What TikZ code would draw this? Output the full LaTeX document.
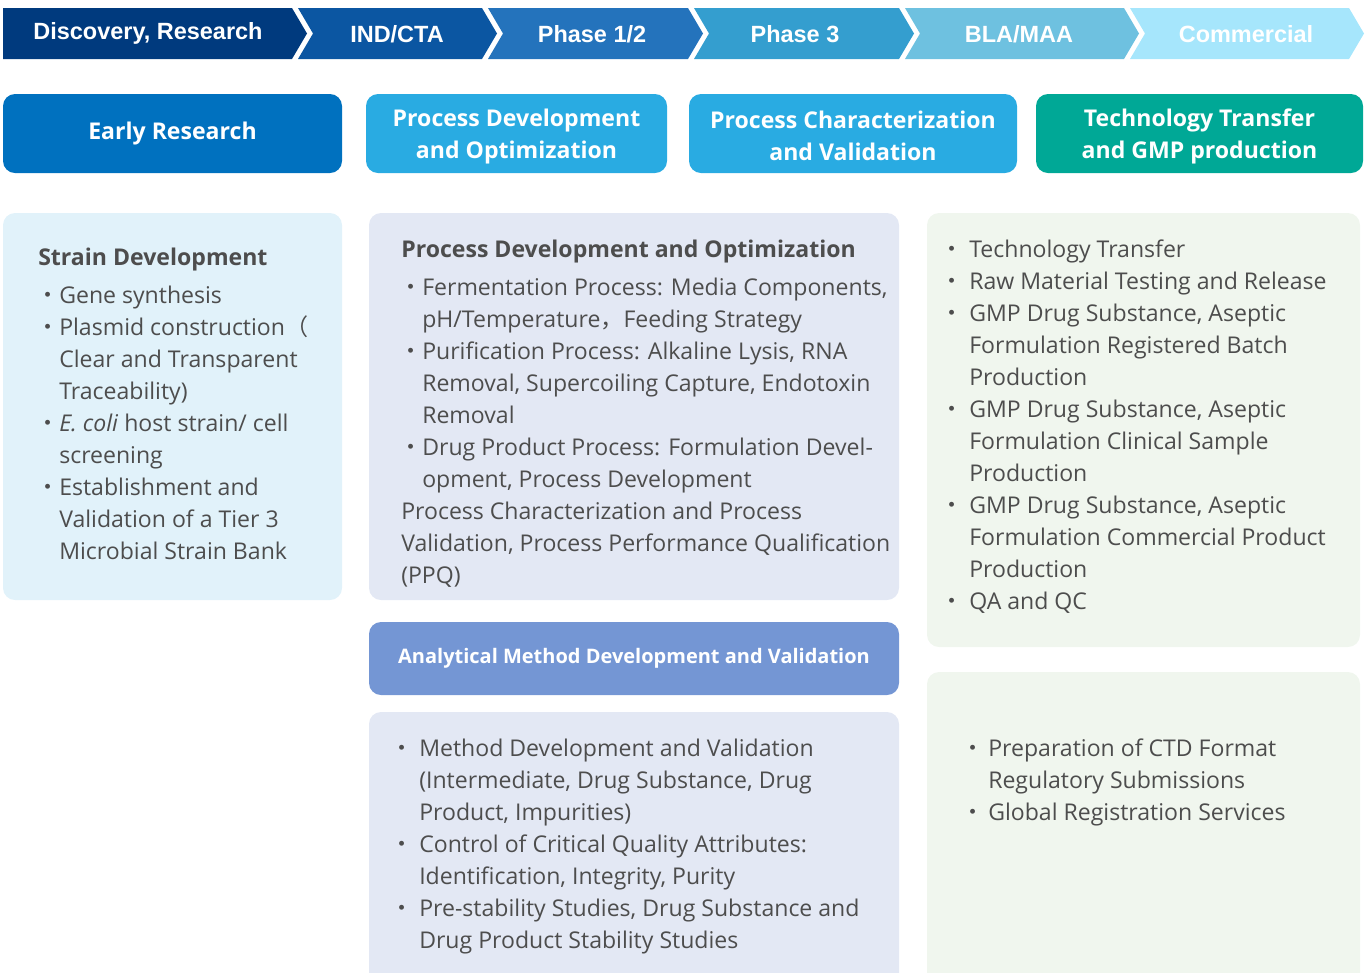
\documentclass[tikz,border=0pt]{standalone}
\usepackage{fontspec}
\setmainfont{Open Sans}
\newfontfamily\cjk{Noto Sans CJK JP}
\newfontfamily\barfont{Liberation Sans}
\definecolor{bara}{HTML}{003A7E}
\definecolor{barb}{HTML}{0B56A2}
\definecolor{barc}{HTML}{2473BC}
\definecolor{bard}{HTML}{349ECF}
\definecolor{bare}{HTML}{6EC1E0}
\definecolor{barf}{HTML}{A6E6FC}
\definecolor{hdrblue}{HTML}{0071BF}
\definecolor{hdrlight}{HTML}{29ABE2}
\definecolor{hdrteal}{HTML}{00A896}
\definecolor{boxa}{HTML}{E1F2FA}
\definecolor{boxb}{HTML}{E3E8F4}
\definecolor{boxc}{HTML}{F0F6EE}
\definecolor{boxd}{HTML}{7496D4}
\definecolor{txt}{HTML}{4D4D4D}
\newlength\bgap
\setlength\bgap{0pt}
\newcommand\bl{\llap{{\cjk ・}\hspace{\bgap}}}
\newcommand\fw[1]{{\cjk #1}}
\newcommand\up{\rule{0pt}{17pt}}
\newcommand\rbox[7]{%
  \node[rbox, fill=#6, minimum width={(#4-#2)*0.75pt}, minimum height={(#5-#3)*0.75pt}]
    (#1) at ({(#2+#4)/2},{(#3+#5)/2}) {#7};}
\newcommand\txtlines[4]{%
  \foreach \t [count=\i] in {#4}
    \node[body, anchor=base west] (#1\i) at (#2, {#3+32*(\i-1)}) {\t};}
\newcommand\chev[6]{% name, L, R, colour, text x, text
  \fill[#4] (#2,8) -- (#3,8) -- (#3+15,33.5) -- (#3,59) -- (#2,59) -- (#2+15,33.5) -- cycle;
  \node[bartext] (#1) at (#5,34) {#6};}
\begin{document}
\begin{tikzpicture}[x=0.75pt,y=-0.75pt,
  rbox/.style={rounded corners=9pt, inner sep=0pt, draw=none, text=white,
    font=\fontsize{17.3}{24}\selectfont\bfseries, align=center},
  body/.style={font=\fontsize{17.3}{24}\selectfont, text=txt, inner sep=0pt},
  head/.style={font=\fontsize{17.3}{24}\selectfont\bfseries, text=txt, inner sep=0pt, anchor=base west},
  bartext/.style={font=\barfont\bfseries\fontsize{17.6}{20}\selectfont, text=white, inner sep=0pt}]
\useasboundingbox (0,0) rectangle (1366,972);
% top phase bar
\fill[bara] (3,8) -- (292,8) -- (307,33.5) -- (292,59) -- (3,59) -- cycle;
\node[bartext] (p1) at (148,33) {Discovery, Research};
\chev{p2}{298}{482}{barb}{397}{IND/CTA}
\chev{p3}{488}{688}{barc}{592}{Phase 1/2}
\chev{p4}{694}{899}{bard}{795}{Phase 3}
\chev{p5}{905}{1124}{bare}{1019}{BLA/MAA}
\chev{p6}{1130}{1349}{barf}{1246}{Commercial}
% row 2 headers
\rbox{h1}{3}{94}{342}{173}{hdrblue}{Early Research}
\rbox{h2}{366}{94}{667}{173}{hdrlight}{\up Process Development\\and Optimization}
\rbox{h3}{689}{94}{1017}{173}{hdrlight}{\up Process Characterization\\and Validation}
\rbox{h4}{1036}{94}{1363}{173}{hdrteal}{\up Technology Transfer\\and GMP production}
% content boxes
\rbox{ba}{3}{213}{342}{600}{boxa}{}
\rbox{bb}{369}{213}{899}{600}{boxb}{}
\rbox{bc}{927}{213}{1360}{647}{boxc}{}
\node[rbox, fill=boxd, minimum width={530*0.75pt}, minimum height={73*0.75pt},
  font=\fontsize{15}{20}\selectfont\bfseries] (bd) at (634,658.5) {Analytical Method Development and Validation};
\rbox{be}{369}{712}{899}{1000}{boxb}{}
\rbox{bf}{927}{672}{1360}{1000}{boxc}{}
% box A
\node[head] (ha) at (38,265) {Strain Development};
\txtlines{A}{59}{303}{{\bl Gene synthesis},{\bl Plasmid construction\fw{（}},{Clear and Transparent},{Traceability)},{\bl\textit{E. coli} host strain/ cell},{screening},{\bl Establishment and},{Validation of a Tier 3},{Microbial Strain Bank}}
% box B
\node[head] (hb) at (401,257) {Process Development and Optimization};
\txtlines{B}{422}{295}{{\bl Fermentation Process: Media Components,},{pH/Temperature\fw{，}Feeding Strategy},{\bl Purification Process: Alkaline Lysis, RNA},{Removal, Supercoiling Capture, Endotoxin},{Removal},{\bl Drug Product Process: Formulation Devel-},{opment, Process Development}}
\txtlines{P}{401}{519}{{Process Characterization and Process},{Validation, Process Performance Qualification},{(PPQ)}}
% box C
\setlength\bgap{4pt}
\txtlines{C}{969}{257}{{\bl Technology Transfer},{\bl Raw Material Testing and Release},{\bl GMP Drug Substance, Aseptic},{Formulation Registered Batch},{Production},{\bl GMP Drug Substance, Aseptic},{Formulation Clinical Sample},{Production},{\bl GMP Drug Substance, Aseptic},{Formulation Commercial Product},{Production},{\bl QA and QC}}
% box E
\txtlines{E}{419}{756}{{\bl Method Development and Validation},{(Intermediate, Drug Substance, Drug},{Product, Impurities)},{\bl Control of Critical Quality Attributes:},{Identification, Integrity, Purity},{\bl Pre-stability Studies, Drug Substance and},{Drug Product Stability Studies}}
% box F
\setlength\bgap{2.5pt}
\txtlines{F}{988}{756}{{\bl Preparation of CTD Format},{Regulatory Submissions},{\bl Global Registration Services}}
\end{tikzpicture}
\end{document}
